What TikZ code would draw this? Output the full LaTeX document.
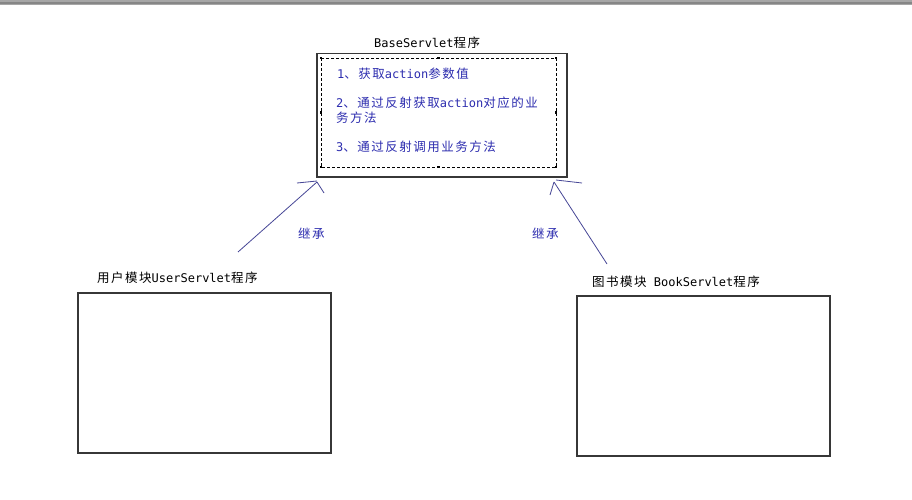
\documentclass[tikz,border=0pt]{standalone}
\usepackage{fontspec}
\setmainfont{DejaVu Sans Mono}
\newfontfamily\cjkfont[LetterSpace=12]{Noto Sans CJK SC}
\newcommand\zh[1]{{\cjkfont\fontsize{12.5}{14}\selectfont #1}}
\definecolor{txtblue}{RGB}{45,45,175}
\definecolor{arrowblue}{RGB}{70,70,150}
\definecolor{boxgray}{RGB}{55,55,55}
\begin{document}
\begin{tikzpicture}[x=1pt,y=-1pt,
  txt/.style={inner sep=0pt, anchor=base west, font=\fontsize{12}{14}\selectfont},
  bluetxt/.style={txt, text=txtblue},
  panel/.style={draw=boxgray, line width=1.5pt, anchor=north west, inner sep=0pt, minimum width=253pt, minimum height=160pt},
  handle/.style={fill=black, inner sep=0pt, minimum size=2.2pt},
  inherit/.style={draw=arrowblue, line width=0.8pt}]
\useasboundingbox (0,0) rectangle (912,500);
\fill[white] (0,0) rectangle (912,500);
\fill[gray!70] (0,0) rectangle (912,5);
\fill[gray!95] (0,2) rectangle (912,4);

% top box
\node[panel, minimum width=250pt, minimum height=123pt] (base) at (316,53) {};
\draw[line width=0.7pt, dash pattern=on 3pt off 2pt] (321,58) rectangle (556,167);
\foreach \hx/\hy [count=\i] in {321/58, 438.5/58, 556/58, 321/112.5, 556/112.5, 321/167, 438.5/167, 556/167}
  \node[handle] (h\i) at (\hx,\hy) {};
\node[txt] (title) at (374,48) {BaseServlet\zh{程序}};
\node[bluetxt] (l1) at (337,79) {1\zh{、获取}action\zh{参数值}};
\node[bluetxt] (l2) at (336,108) {2\zh{、通过反射获取}action\zh{对应的业}};
\node[bluetxt] (l2b) at (336,122) {\zh{务方法}};
\node[bluetxt] (l3) at (336,151) {3\zh{、通过反射调用业务方法}};

% lower boxes
\node[panel] (user) at (77,292) {};
\node[txt] (userlbl) at (97,282) {\zh{用户模块}UserServlet\zh{程序}};
\node[panel] (book) at (576,295) {};
\node[txt] (booklbl) at (592,286) {\zh{图书模块} BookServlet\zh{程序}};

% inheritance arrows (hand drawn)
\coordinate (startL) at (238,252);
\coordinate (tipL) at (317,182);
\draw[inherit] (startL) -- (tipL);
\draw[inherit] (tipL) ++(0,-1) -- ++(-20,2);
\draw[inherit] (tipL) -- ++(7,11);
\node[bluetxt] (inhL) at (298,238) {\zh{继承}};

\coordinate (startR) at (607,264);
\coordinate (tipR) at (554,182);
\draw[inherit] (startR) -- (tipR);
\draw[inherit] (tipR) ++(2,-2) -- ++(26,3);
\draw[inherit] (tipR) -- ++(-4,13);
\node[bluetxt] (inhR) at (532,238) {\zh{继承}};
\end{tikzpicture}
\end{document}
